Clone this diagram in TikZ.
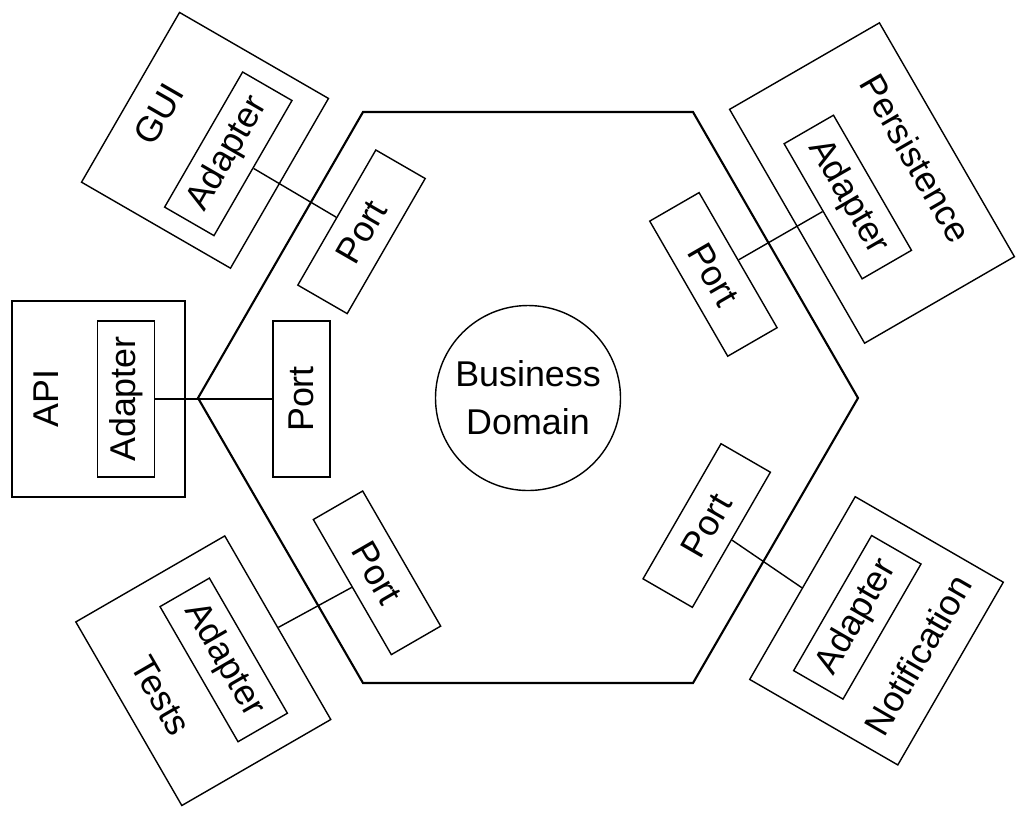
\documentclass[tikz,border=0pt]{standalone}
\usepackage{fontspec}
\setmainfont{Liberation Sans}
\usetikzlibrary{shapes}
\tikzset{>=latex}
\tikzset{
    every node/.style={font=\fontsize{10.2}{13.7}\selectfont},
    portbox/.style={draw=black, thin, inner sep=0pt, minimum width=1.56cm, minimum height=0.57cm},
    adapterbox/.style={portbox},
    sidebox/.style={draw=black, thin, inner sep=0pt},
    sidelabel/.style={inner sep=0pt},
    hexline/.style={draw=black, semithick, line join=miter},
    wire/.style={draw=black, thin}
}

\begin{document}
\begin{tikzpicture}
        \useasboundingbox (0,0) rectangle (10.28,-8.13);
        \draw[hexline] (3.63,-1.12) -- (6.93,-1.12) -- (8.58,-3.98) -- (6.93,-6.83) -- (3.63,-6.83) -- (1.98,-3.98) -- cycle;
        \node[draw=black, thin, circle, minimum size=1.85cm, inner sep=0pt, align=center] (domain) at (5.28,-3.98) {Business\\Domain};

        \node[sidebox, minimum width=1.96cm, minimum height=1.72cm, rotate=60] (guibox) at (2.05,-1.403) {};
        \node[adapterbox, rotate=60] (guiad) at (2.283,-1.538) {Adapter};
        \node[sidelabel, rotate=60] (guilabel) at (1.59,-1.14) {GUI};
        \node[portbox, rotate=60] (guiport) at (3.615,-2.318) {Port};
        \draw[wire] (guiad.south) -- (guiport.north);

        \node[sidebox, minimum width=1.96cm, minimum height=1.73cm, rotate=90] (apibox) at (0.985,-3.99) {};
        \node[adapterbox, rotate=90] (apiad) at (1.26,-3.99) {Adapter};
        \node[sidelabel, rotate=90] (apilabel) at (0.46,-3.985) {API};
        \node[portbox, rotate=90] (apiport) at (3.015,-3.99) {Port};
        \draw[wire] (apiad.south) -- (apiport.north);

        \node[sidebox, minimum width=2.12cm, minimum height=1.72cm, rotate=-60] (testsbox) at (2.033,-6.707) {};
        \node[adapterbox, rotate=-60] (testsad) at (2.237,-6.599) {Adapter};
        \node[sidelabel, rotate=-60] (testslabel) at (1.61,-6.96) {Tests};
        \node[portbox, rotate=-60] (testsport) at (3.77,-5.728) {Port};
        \draw[wire] (testsbox.north) -- (testsport.south);

        \node[sidebox, minimum width=2.70cm, minimum height=1.73cm, rotate=-60] (persbox) at (8.72,-1.83) {};
        \node[adapterbox, rotate=-60] (persad) at (8.478,-1.97) {Adapter};
        \node[sidelabel, rotate=-60] (perslabel) at (9.16,-1.58) {Persistence};
        \node[portbox, rotate=-60] (persport) at (7.134,-2.744) {Port};
        \draw[wire] (persad.south) -- (persport.north);

        \node[sidebox, minimum width=2.11cm, minimum height=1.71cm, rotate=60] (notifbox) at (8.765,-6.308) {};
        \node[adapterbox, rotate=60] (notifad) at (8.573,-6.173) {Adapter};
        \node[sidelabel, rotate=60] (notiflabel) at (9.18,-6.55) {Notification};
        \node[portbox, rotate=60] (notifport) at (7.067,-5.255) {Port};
        \draw[wire] (notifport.south) -- (notifbox.north);
    \end{tikzpicture}
\end{document}
